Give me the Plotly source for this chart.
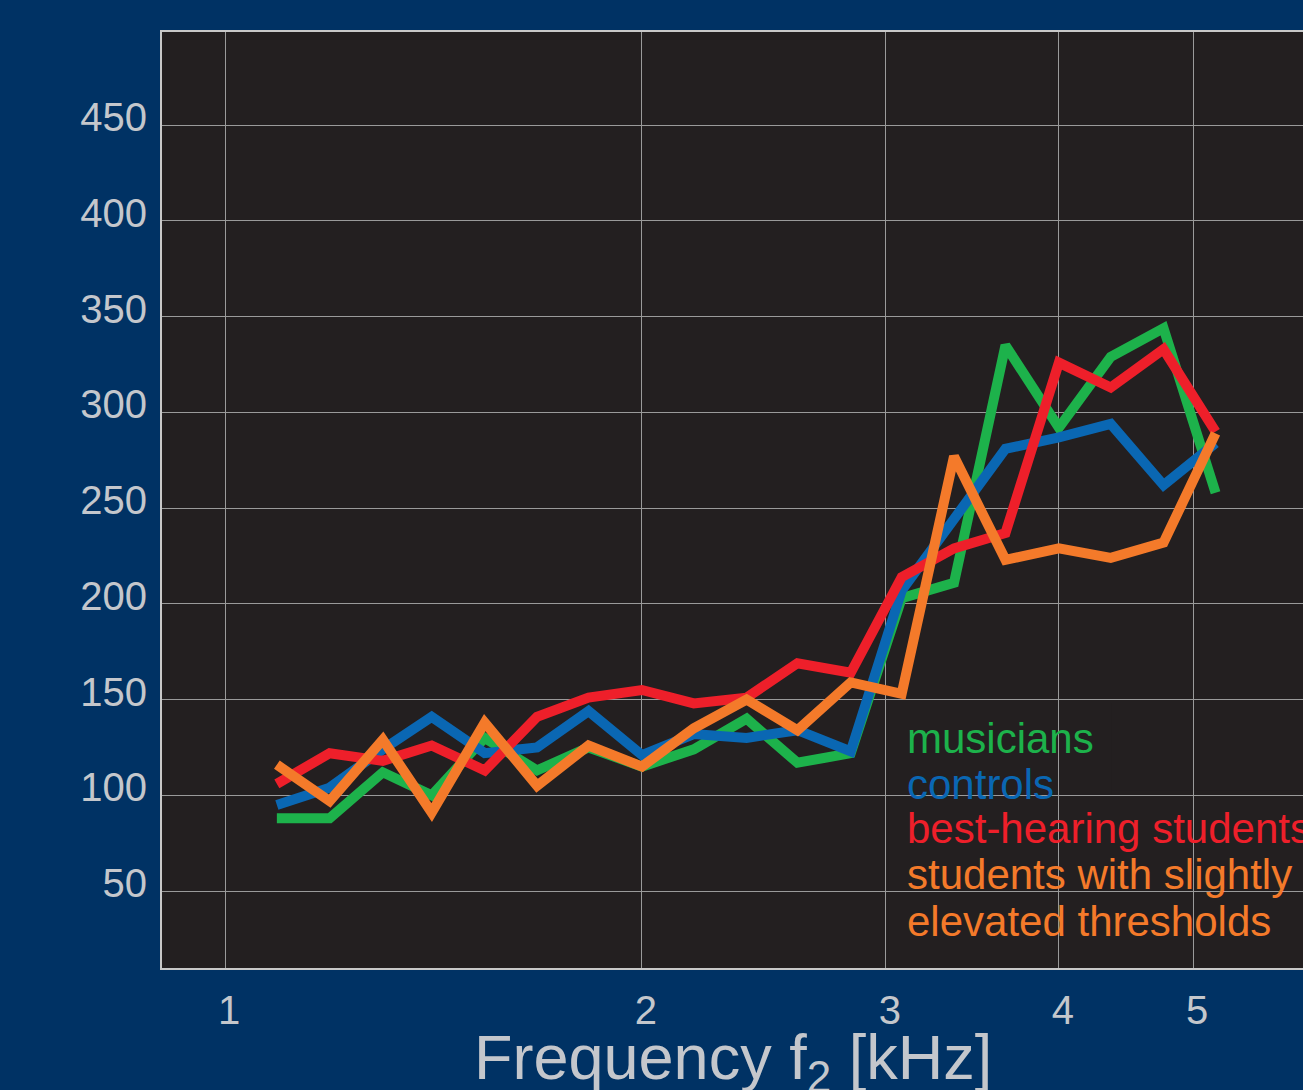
import plotly.graph_objects as go

# Frequencies f2 in kHz (1/8-octave steps)
freqs = [1.09, 1.19, 1.30, 1.41, 1.54, 1.68, 1.83, 2.00, 2.18, 2.38,
         2.59, 2.83, 3.08, 3.36, 3.66, 4.00, 4.36, 4.76, 5.19]

musicians = [88, 88, 112, 100, 130, 113, 125, 115, 124, 140,
             117, 122, 203, 211, 335, 292, 329, 344, 258]
controls = [95, 104, 124, 141, 122, 125, 144, 121, 132, 130,
            134, 123, 207, 244, 281, 287, 294, 262, 284]
best_hearing = [106, 122, 118, 126, 113, 141, 151, 155, 148, 151,
                169, 164, 214, 229, 237, 326, 313, 333, 290]
slightly_elevated = [116, 97, 129, 91, 138, 105, 126, 115, 135, 150,
                     134, 159, 153, 277, 223, 229, 224, 232, 289]

series_names = ["musicians", "controls", "best-hearing students",
                "students with slightly elevated thresholds"]
legend_lines = ["musicians", "controls", "best-hearing students",
                "students with slightly", "elevated thresholds"]
x_title = "Frequency f<sub>2</sub> [kHz]"

x_ticks = [1, 2, 3, 4, 5]
x_ticktext = ["1", "2", "3", "4", "5"]
y_ticks = [50, 100, 150, 200, 250, 300, 350, 400, 450]

GREEN = "#1db24b"
BLUE = "#0a67b3"
RED = "#ee1f2a"
ORANGE = "#f47a2a"
BG = "#003264"
PLOT_BG = "#231f20"
TXT = "#c4c7cc"
FONT = "Liberation Sans, Arial, sans-serif"

fig = go.Figure()
for name, vals, col in [(series_names[0], musicians, GREEN),
                        (series_names[1], controls, BLUE),
                        (series_names[2], best_hearing, RED),
                        (series_names[3], slightly_elevated, ORANGE)]:
    fig.add_trace(go.Scatter(x=freqs, y=vals, mode="lines", name=name,
                             line=dict(color=col, width=10),
                             showlegend=False))

# legend background panel (covers gridlines)
fig.add_shape(type="rect", xref="paper", yref="paper",
              x0=0.6363, x1=1.0, y0=0.0107, y1=0.190,
              fillcolor=PLOT_BG, line=dict(width=0), layer="between")
fig.add_shape(type="rect", xref="paper", yref="paper",
              x0=0.6363, x1=0.8326, y0=0.185, y1=0.283,
              fillcolor=PLOT_BG, line=dict(width=0), layer="between")

legend_cols = [GREEN, BLUE, RED, ORANGE, ORANGE]
baselines_px = [753, 799, 843, 889, 936]
for txt, col, bl in zip(legend_lines, legend_cols, baselines_px):
    center_px = bl - 14.5
    fig.add_annotation(text=txt, xref="paper", yref="paper",
                       x=(905 - 162) / 1141, y=(968 - center_px) / 936,
                       xanchor="left", yanchor="middle", showarrow=False,
                       font=dict(family=FONT, size=42, color=col))

# x-axis title (extends past the bottom edge, as in the original)
fig.add_annotation(text=x_title, xref="paper", yref="paper",
                   x=0.5, y=(968 - 1020) / 936, xanchor="center", yanchor="top",
                   showarrow=False, font=dict(family=FONT, size=63, color=TXT))

fig.update_layout(
    width=1303, height=1090,
    margin=dict(l=162, r=0, t=32, b=122),
    paper_bgcolor=BG, plot_bgcolor=PLOT_BG,
    font=dict(family=FONT, color=TXT),
)
fig.update_xaxes(type="log", range=[-0.0455, 0.7783], automargin=False,
                 tickvals=x_ticks, ticktext=x_ticktext,
                 tickfont=dict(size=40, color=TXT),
                 showgrid=True, gridcolor="#9a9a9a", gridwidth=1.3,
                 showline=True, linecolor="#c8c8c8", linewidth=2, mirror=True,
                 ticks="", ticklabelstandoff=6, ticklabelshift=4,
                 zeroline=False)
fig.update_yaxes(range=[9.8, 498.7], tickvals=y_ticks, automargin=False,
                 tickfont=dict(size=40, color=TXT),
                 showgrid=True, gridcolor="#9a9a9a", gridwidth=1.3,
                 showline=True, linecolor="#c8c8c8", linewidth=2,
                 ticks="", ticklabelstandoff=5, ticklabelshift=-8,
                 zeroline=False)

fig.write_html("out.html", config={"displayModeBar": False},
               post_script="document.body.style.margin='0';"
                           "document.body.style.overflow='hidden';")
